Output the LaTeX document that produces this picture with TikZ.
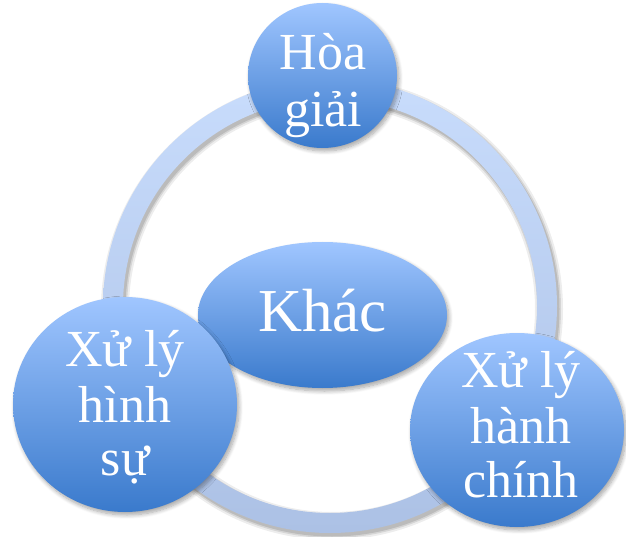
\documentclass[tikz,border=0pt]{standalone}
\usepackage{fontspec}
\setmainfont{Liberation Serif}
\usetikzlibrary{shapes.geometric,shadows.blur}
\definecolor{ringtop}{RGB}{200,220,252}
\definecolor{ringbot}{RGB}{172,193,229}
\definecolor{balltop}{RGB}{160,198,255}
\definecolor{ballmid}{RGB}{116,163,236}
\definecolor{ballbot}{RGB}{58,122,204}
\tikzset{
  ball/.style={ellipse, inner sep=0pt, draw=none,
    top color=balltop, middle color=ballmid, bottom color=ballbot,
    blur shadow={shadow xshift=2pt, shadow yshift=-3pt, shadow blur steps=8,
      shadow opacity=35, shadow blur radius=4pt}},
  txt/.style={text=white, font=\fontsize{52}{56}\selectfont, inner sep=0pt, anchor=base},
  bigtxt/.style={txt, font=\fontsize{61}{66}\selectfont},
}
\begin{document}
\begin{tikzpicture}[x=1pt,y=-1pt]
\useasboundingbox (0,0) rectangle (626,537);
% ring shadow
\draw[black, opacity=0.07, line width=28pt] (332,309) circle (217pt);
\draw[black, opacity=0.10, line width=24pt] (332,309) circle (217pt);
\draw[black, opacity=0.12, line width=21pt] (332,309) circle (217pt);
% ring
\shade[top color=ringtop, bottom color=ringbot, even odd rule]
  (330,306) circle (227pt) (330,306) circle (207pt);
% balls
\node[ball, minimum width=249pt, minimum height=146pt] (khac) at (322.5,315) {};
\node[ball, minimum width=149pt, minimum height=145pt] (hoa) at (322.5,75.5) {};
\node[ball, minimum width=224pt, minimum height=215pt] (hsu) at (125,404.5) {};
\node[ball, minimum width=214pt, minimum height=194pt] (hc) at (517,430) {};
% texts
\node[bigtxt] (khacT) at (322.5,331) {Khác};
\node[txt] (hoaT1) at (323,70) {Hòa};
\node[txt] (hoaT2) at (323,127) {giải};
\node[txt] (hsuT1) at (125,366) {Xử lý};
\node[txt] (hsuT2) at (125,422) {hình};
\node[txt] (hsuT3) at (125,475) {sự};
\node[txt] (hcT1) at (521,387) {Xử lý};
\node[txt] (hcT2) at (521,443) {hành};
\node[txt] (hcT3) at (521,497) {chính};
\end{tikzpicture}
\end{document}
